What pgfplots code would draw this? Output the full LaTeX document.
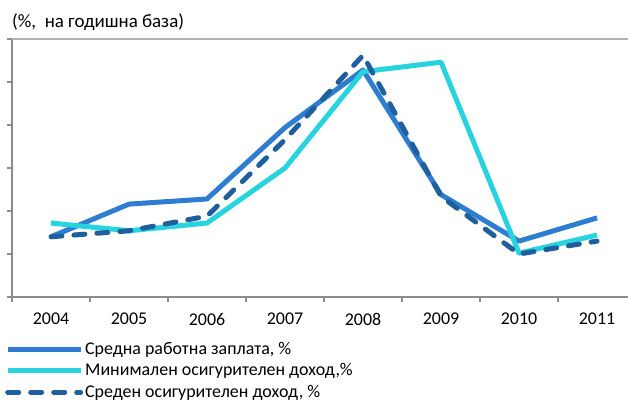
\documentclass[border=0pt]{standalone}
\usepackage{pgfplots}
\pgfplotsset{compat=1.18}
\usepackage{fontspec}
\setmainfont{Carlito}
\definecolor{cwage}{HTML}{2E7DD0}
\definecolor{cmin}{HTML}{26D3DF}
\definecolor{cavg}{HTML}{1F5F9E}
\definecolor{caxis}{HTML}{8C8C8C}
\begin{document}
\fontsize{18}{21.5}\selectfont
\begin{tikzpicture}[x=1bp,y=1bp]
\begin{axis}[
  at={(12bp,104bp)}, anchor=south west,
  width=616bp, height=258bp, scale only axis,
  xmin=-0.5, xmax=7.397, ymin=0, ymax=30,
  axis x line*=bottom, axis y line*=left,
  axis line style={caxis, line width=1.2bp},
  xtick={0,...,7},
  xticklabels={2004,2005,2006,2007,2008,2009,2010,2011},
  major x tick style={draw=none},
  minor xtick={-0.5,0.5,1.5,2.5,3.5,4.5,5.5,6.5},
  ytick={0,5,10,15,20,25,30}, yticklabels={},
  tick align=outside,
  tick style={caxis, line width=1.2bp},
  major tick length=5bp, minor tick length=5bp,
  xticklabel style={font=\fontsize{18}{21.5}\selectfont, yshift=-5bp},
  clip=false,
  legend style={at={(-0.0114,-0.166)}, anchor=north west, draw=none, fill=none,
    font=\fontsize{18}{21.5}\selectfont, row sep=2.5bp, inner sep=0pt,
    /tikz/every even column/.append style={column sep=0bp}},
  legend cell align=left,
  legend image code/.code={\draw[#1] (0bp,0bp) -- (73bp,0bp);},
]
\draw[color=black!30, line width=1.2bp] (axis cs:-0.5,30) -- (axis cs:7.397,30);
\addplot[cwage, line width=5bp, line join=round] coordinates {
 (0,7.0) (1,10.8) (2,11.4) (3,19.7) (4,26.4) (5,11.9) (6,6.5) (7,9.2)};
\addlegendentry{Средна работна заплата, \%}
\addplot[cmin, line width=5bp, line join=round] coordinates {
 (0,8.6) (1,7.7) (2,8.6) (3,15.0) (4,26.2) (5,27.3) (6,5.1) (7,7.2)};
\addlegendentry{Минимален осигурителен доход,\%}
\addplot[cavg, line width=5bp, line cap=round, dash pattern=on 11bp off 12bp] coordinates {
 (0,7.0) (1,7.7) (2,9.4) (3,18.3) (4,28.1) (5,11.7) (6,5.0) (7,6.5)};
\addlegendentry{Среден осигурителен доход, \%}
\end{axis}
\node[anchor=west, inner sep=0pt, font=\fontsize{19}{22}\selectfont] at (12bp,379bp) {(\%,\ \ на годишна база)};
\pgfresetboundingbox
\path[use as bounding box] (0bp,0bp) rectangle (628bp,401bp);
\end{tikzpicture}
\end{document}
